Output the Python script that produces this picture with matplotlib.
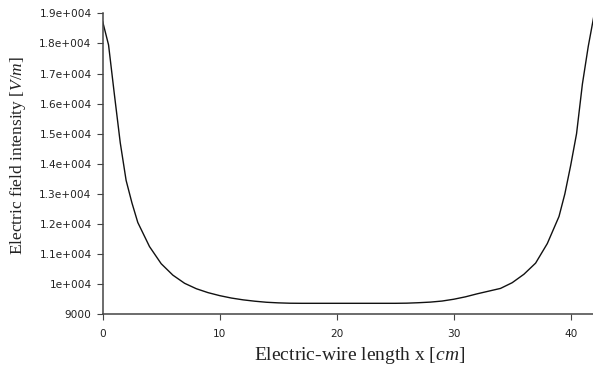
import matplotlib
matplotlib.use("Agg")
import matplotlib.pyplot as plt
from matplotlib.ticker import FixedLocator, FixedFormatter

# Field intensity along the wire (cm, V/m); finer sampling near the wire ends
length_cm = [0, 0.5, 1, 1.5, 2, 2.5, 3, 4, 5, 6, 7, 8, 9,
             10, 11, 12, 13, 14, 15, 16, 17, 18, 19,
             20, 21, 22, 23, 24, 25, 26, 27, 28, 29,
             30, 31, 32, 33, 34, 35, 36, 37, 38, 39, 39.5,
             40, 40.5, 41, 41.5, 42]
field_vm = [18720, 17950, 16300, 14700, 13450, 12700, 12050, 11250, 10680, 10300,
            10030, 9850, 9720,
            9620, 9540, 9480, 9435, 9400, 9380, 9368, 9365, 9365, 9365,
            9365, 9365, 9365, 9365, 9365, 9365, 9370, 9385, 9405, 9440,
            9500, 9580, 9680, 9770, 9860, 10050, 10330, 10700, 11350, 12250, 13000,
            13950, 15000, 16650, 17900, 18950]

y_ticks = [9000, 10000, 11000, 12000, 13000, 14000, 15000, 16000, 17000, 18000, 19000]
y_tick_labels = ["9000", "1e+004", "1.1e+004", "1.2e+004", "1.3e+004", "1.4e+004",
                 "1.5e+004", "1.6e+004", "1.7e+004", "1.8e+004", "1.9e+004"]
x_ticks = [0, 10, 20, 30, 40]
x_tick_labels = ["0", "10", "20", "30", "40"]

plt.rcParams["mathtext.fontset"] = "custom"
plt.rcParams["mathtext.rm"] = "Liberation Serif"
plt.rcParams["mathtext.it"] = "Liberation Serif:italic"
plt.rcParams["font.family"] = "DejaVu Sans"

W, H = 593, 368
fig = plt.figure(figsize=(W / 100, H / 100), dpi=100)
left = 102.7 / W
bottom = (H - 314.3) / H
top = (H - 13.3) / H
ax = fig.add_axes([left, bottom, 491.4 / W, top - bottom])

ax.plot(length_cm, field_vm, color="#111111", lw=1.0)
ax.set_xlim(0, 42)
ax.set_ylim(9000, 19000)

ax.yaxis.set_major_locator(FixedLocator(y_ticks))
ax.yaxis.set_major_formatter(FixedFormatter(y_tick_labels))
ax.xaxis.set_major_locator(FixedLocator(x_ticks))
ax.xaxis.set_major_formatter(FixedFormatter(x_tick_labels))

for s in ["top", "right"]:
    ax.spines[s].set_visible(False)
for s in ["left", "bottom"]:
    ax.spines[s].set_color("#444444")
    ax.spines[s].set_linewidth(1.1)

ax.tick_params(axis="both", direction="out", length=4, width=0.8, color="#444444",
               labelsize=7.6, labelcolor="#222222")
ax.tick_params(axis="y", pad=4)
ax.tick_params(axis="x", pad=6.5)

fig.text(360 / W, 1 - 356 / H, r"Electric-wire length x [$\mathit{cm}$]",
         family="Liberation Serif", fontsize=14, ha="center", va="center", color="#222222")
fig.text(18 / W, 1 - 155 / H, r"Electric field intensity [$\mathit{V/m}$]",
         family="Liberation Serif", fontsize=12.5, ha="center", va="center",
         rotation=90, color="#222222")

fig.savefig("out.png", dpi=100)
